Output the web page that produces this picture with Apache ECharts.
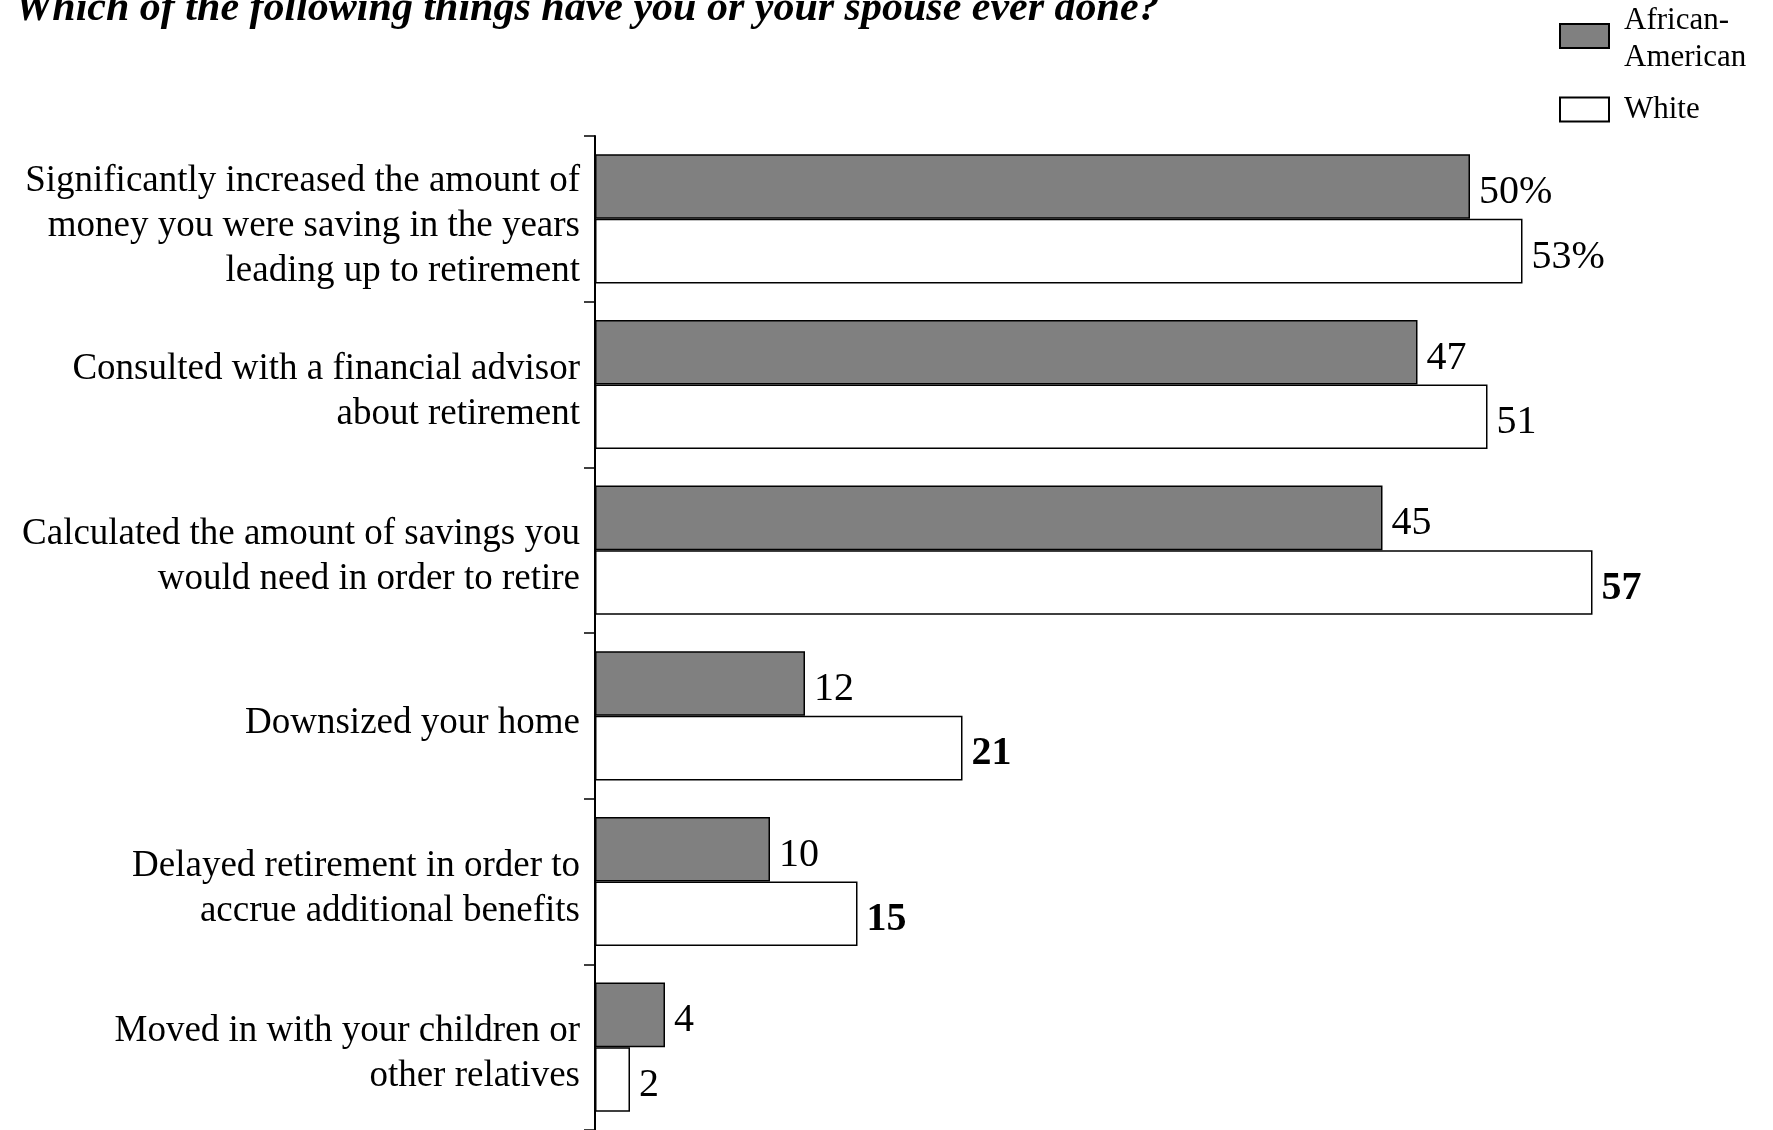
<!DOCTYPE html>
<html>
<head>
<meta charset="utf-8">
<script src="https://cdn.jsdelivr.net/npm/echarts@6/dist/echarts.min.js"></script>
<style>
html,body{margin:0;padding:0;background:#fff;}
#chart{width:1773px;height:1130px;}
</style>
</head>
<body>
<div id="chart"></div>
<script>
const titleText = 'Which of the following things have you or your spouse ever done?';
const categories = [
  'Significantly increased the amount of\nmoney you were saving in the years\nleading up to retirement',
  'Consulted with a financial advisor\nabout retirement',
  'Calculated the amount of savings you\nwould need in order to retire',
  'Downsized your home',
  'Delayed retirement in order to\naccrue additional benefits',
  'Moved in with your children or\nother relatives'
];
const seriesNames = ['African-American', 'White'];
const africanAmerican = [50, 47, 45, 12, 10, 4];
const white = [53, 51, 57, 21, 15, 2];
const whiteSignificant = [false, false, true, true, true, false];

const FONT = "'Liberation Serif', 'Times New Roman', serif";

function labelFmt(p) {
  return p.dataIndex === 0 ? p.value + '%' : String(p.value);
}

const chart = echarts.init(document.getElementById('chart'), null, {renderer: 'canvas'});
chart.setOption({
  animation: false,
  backgroundColor: '#fff',
  title: {
    text: titleText,
    left: 10,
    top: -17,
    textStyle: {fontFamily: FONT, fontSize: 42, fontWeight: 'bold', fontStyle: 'italic', color: '#000'}
  },
  legend: {
    orient: 'vertical',
    left: 1559,
    top: -4,
    padding: 0,
    itemWidth: 49,
    itemHeight: 24,
    itemGap: 15,
    icon: 'rect',
    formatter: function (n) {
      return n === 'African-American' ? '{s| }\n{t|African-}\n{t|American}' : '{t|' + n + '}';
    },
    textStyle: {
      fontFamily: FONT, fontSize: 31, lineHeight: 37, color: '#000', padding: [0, 0, 0, 10],
      rich: {
        s: {fontSize: 1, lineHeight: 6},
        t: {fontFamily: FONT, fontSize: 31, lineHeight: 37, color: '#000'}
      }
    },
    data: seriesNames
  },
  grid: {left: 595, top: 136, width: 1050, height: 995, containLabel: false},
  xAxis: {
    type: 'value', min: 0, max: 60, show: false,
    splitLine: {show: false}
  },
  yAxis: {
    type: 'category',
    inverse: true,
    data: categories,
    axisLine: {show: true, lineStyle: {color: '#000', width: 2}},
    axisTick: {show: true, inside: false, length: 11, lineStyle: {color: '#000', width: 1.5}},
    axisLabel: {
      fontFamily: FONT, fontSize: 37, lineHeight: 45, color: '#000', margin: 15, align: 'right',
      formatter: function (v) {
        return '{s| }\n' + v.split('\n').map(function (l) { return '{a|' + l + '}'; }).join('\n');
      },
      rich: {
        s: {fontSize: 1, lineHeight: 14},
        a: {fontFamily: FONT, fontSize: 37, lineHeight: 45, color: '#000', align: 'right'}
      }
    }
  },
  series: [
    {
      name: seriesNames[0],
      type: 'bar',
      barGap: '0%',
      barCategoryGap: '22%',
      data: africanAmerican,
      itemStyle: {color: '#808080', borderColor: '#000', borderWidth: 1.5},
      label: {show: true, position: 'right', distance: 9, offset: [0, 6], fontFamily: FONT, fontSize: 40, color: '#000', formatter: labelFmt}
    },
    {
      name: seriesNames[1],
      type: 'bar',
      barGap: '0%',
      barCategoryGap: '22%',
      data: white.map(function (v, i) {
        return {value: v, label: {fontWeight: whiteSignificant[i] ? 'bold' : 'normal'}};
      }),
      itemStyle: {color: '#fff', borderColor: '#000', borderWidth: 1.5},
      label: {show: true, position: 'right', distance: 9, offset: [0, 6], fontFamily: FONT, fontSize: 40, color: '#000', formatter: labelFmt}
    }
  ]
});
</script>
</body>
</html>
